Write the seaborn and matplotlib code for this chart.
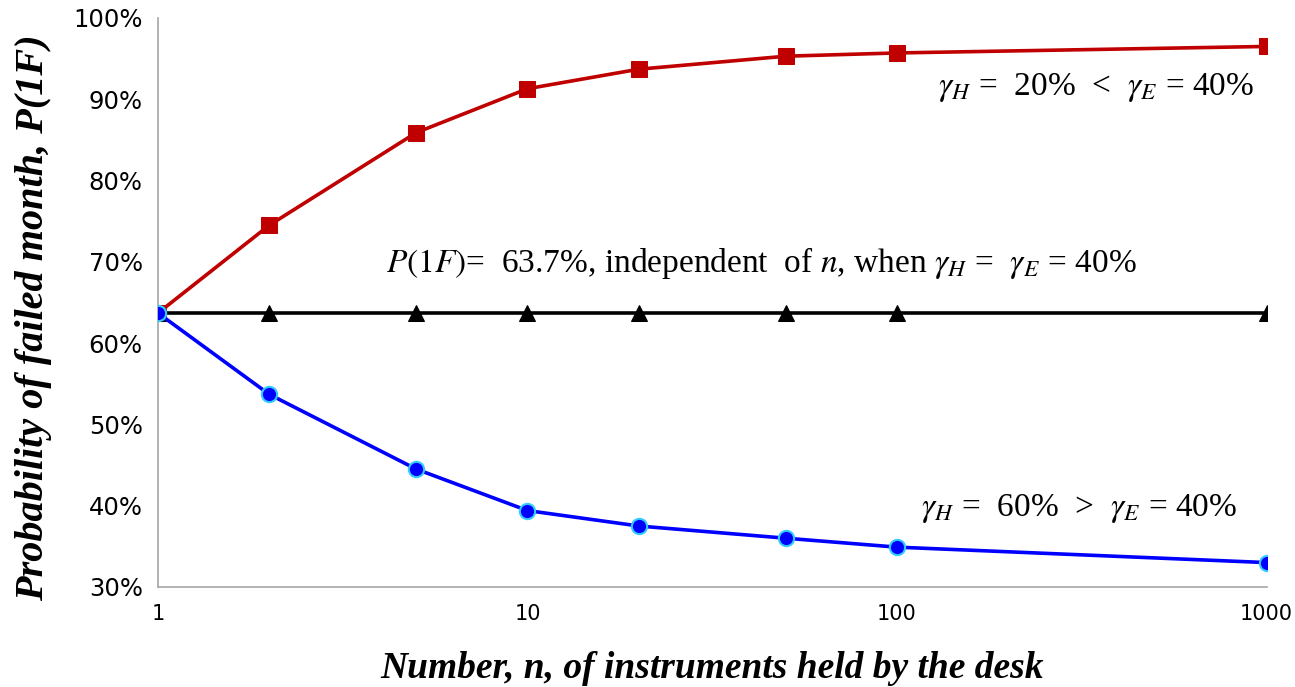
import matplotlib
matplotlib.use("Agg")
import matplotlib.pyplot as plt
import matplotlib.ticker as mticker
import seaborn as sns
import pandas as pd

# Data
n_values = [1, 2, 5, 10, 20, 50, 100, 1000]
p_low_gamma = [63.7, 74.5, 85.9, 91.3, 93.7, 95.3, 95.7, 96.5]     # gamma_H = 20%
p_equal_gamma = [63.7, 63.7, 63.7, 63.7, 63.7, 63.7, 63.7, 63.7]   # gamma_H = gamma_E
p_high_gamma = [63.7, 53.7, 44.5, 39.4, 37.5, 36.0, 34.9, 33.0]    # gamma_H = 60%
x_ticks = [1, 10, 100, 1000]
y_ticks = [30, 40, 50, 60, 70, 80, 90, 100]

sns.set_style("white")
plt.rcParams["font.family"] = ["DejaVu Sans"]
plt.rcParams["mathtext.fontset"] = "stix"
plt.rcParams["text.color"] = "black"
plt.rcParams["axes.labelcolor"] = "black"

fig = plt.figure(figsize=(12.95, 6.87), dpi=100)
ax = fig.add_axes([0.122, 0.1456, 0.856, 0.8282])

df = pd.DataFrame({"n": n_values, "low": p_low_gamma,
                   "eq": p_equal_gamma, "high": p_high_gamma})

sns.lineplot(data=df, x="n", y="low", ax=ax, color="#C00000", linewidth=2.6,
             marker="s", markersize=11, markeredgecolor="#C00000", zorder=3)
sns.lineplot(data=df, x="n", y="eq", ax=ax, color="black", linewidth=2.6,
             marker="^", markersize=11, markeredgecolor="black", zorder=4)
sns.lineplot(data=df, x="n", y="high", ax=ax, color="#0000FF", linewidth=2.6,
             marker="o", markersize=11, markeredgecolor="#33CCFF",
             markeredgewidth=1.5, zorder=5)

ax.set_xscale("log")
ax.set_xlim(1, 1000)
ax.set_ylim(30, 100)
ax.set_xticks(x_ticks)
ax.xaxis.set_major_formatter(mticker.FuncFormatter(lambda v, p: f"{int(round(v))}"))
ax.xaxis.set_minor_locator(mticker.NullLocator())
ax.set_yticks(y_ticks)
ax.yaxis.set_major_formatter(mticker.FuncFormatter(lambda v, p: f"{int(v)}%"))

for s in ["top", "right"]:
    ax.spines[s].set_visible(False)
for s in ["left", "bottom"]:
    ax.spines[s].set_color("#A6A6A6")
    ax.spines[s].set_linewidth(1.2)
ax.tick_params(axis="both", which="major", direction="out", length=7,
               color="#A6A6A6", width=1.2, labelcolor="black")
ax.tick_params(axis="x", pad=5, labelsize=15)
ax.tick_params(axis="y", pad=4, labelsize=17.5)

ax.set_xlabel("Number, n, of instruments held by the desk",
              family="Liberation Serif", fontsize=27, fontweight="bold",
              fontstyle="italic", labelpad=20, color="black")
ax.set_ylabel("Probability of failed month, P(1F)",
              family="Liberation Serif", fontsize=29, fontweight="bold",
              fontstyle="italic", color="black")
ax.yaxis.set_label_coords(-0.096, 0.474)

tkw = dict(family="Liberation Serif", fontsize=24, ha="center", va="center",
           color="black")
ax.text(345, 91.4, r"$\gamma_H$ =  20%  <  $\gamma_E$ = 40%", **tkw)
ax.text(43, 69.9, r"$P(1F)$=  63.7%, independent  of $n$, when $\gamma_H$ =  $\gamma_E$ = 40%", **tkw)
ax.text(312, 39.7, r"$\gamma_H$ =  60%  >  $\gamma_E$ = 40%", **tkw)

fig.savefig("out.png", dpi=100)
